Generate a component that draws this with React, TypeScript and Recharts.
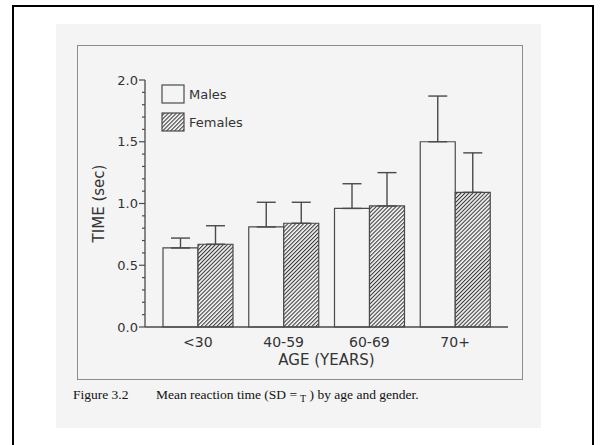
import { BarChart, Bar, XAxis, YAxis, ErrorBar, Legend, Label } from "recharts";

// mean reaction time (sec) and SD by age group
const ageGroups = ["<30", "40-59", "60-69", "70+"];
const maleMeans = [0.64, 0.81, 0.96, 1.5];
const femaleMeans = [0.67, 0.84, 0.98, 1.09];
const maleSd = [0.08, 0.2, 0.2, 0.37];
const femaleSd = [0.15, 0.17, 0.27, 0.32];
const seriesNames = ["Males", "Females"];

const majorTicks = [0, 0.5, 1, 1.5, 2];
const allTicks = [
  0, 0.1, 0.2, 0.3, 0.4, 0.5, 0.6, 0.7, 0.8, 0.9, 1,
  1.1, 1.2, 1.3, 1.4, 1.5, 1.6, 1.7, 1.8, 1.9, 2,
];

const INK = "#4a4a4a";
const TEXT = "#333";
const PAPER = "#f4f4f4";
const FONT = "'DejaVu Sans', sans-serif";

// error bars only go upwards: [below, above]
const data = ageGroups.map((age, i) => ({
  age,
  males: maleMeans[i],
  females: femaleMeans[i],
  maleErr: [0, maleSd[i]],
  femaleErr: [0, femaleSd[i]],
}));

function TimeTick(props: any) {
  const { x, y, payload } = props;
  const major = majorTicks.some((t) => Math.abs(t - payload.value) < 1e-6);
  return (
    <g>
      <line x1={x - (major ? 6 : 3)} x2={x} y1={y} y2={y} stroke={INK} strokeWidth={1.2} />
      {major && (
        <text x={x - 7} y={y} dy="0.36em" textAnchor="end" fontSize={13} fontFamily={FONT} fill={TEXT}>
          {payload.value.toFixed(1)}
        </text>
      )}
    </g>
  );
}

function HatchDef({ id }: { id: string }) {
  return (
    <pattern id={id} width={2.8} height={2.8} patternUnits="userSpaceOnUse" patternTransform="rotate(45)">
      <rect width={2.8} height={2.8} fill={PAPER} />
      <line x1={0.5} y1={0} x2={0.5} y2={2.8} stroke="#383838" strokeWidth={1.1} />
    </pattern>
  );
}

function GenderKey(props: any) {
  const items = [...(props.payload || [])].sort(
    (a: any, b: any) => seriesNames.indexOf(a.value) - seriesNames.indexOf(b.value)
  );
  return (
    <svg width={110} height={50} style={{ display: "block" }}>
      <defs>
        <HatchDef id="keyHatch" />
      </defs>
      {items.map((item: any, i: number) => (
        <g key={item.value} transform={`translate(0, ${i * 28})`}>
          <rect
            x={1}
            y={1}
            width={22}
            height={18}
            fill={String(item.color).startsWith("url") ? "url(#keyHatch)" : item.color}
            stroke={INK}
            strokeWidth={1.2}
          />
          <text x={28} y={10} dy="0.36em" fontSize={13} fontFamily={FONT} fill={TEXT}>
            {item.value}
          </text>
        </g>
      ))}
    </svg>
  );
}

export default function App() {
  return (
    <div style={{ position: "absolute", left: 0, top: 0, width: 602, height: 445, background: "#fff" }}>
      {/* scanned page and figure frame */}
      <div style={{ position: "absolute", left: 56, top: 24, width: 485, height: 404, background: PAPER }} />
      <div
        style={{
          position: "absolute",
          left: 77,
          top: 45,
          width: 444,
          height: 333,
          border: "1.5px solid #8c8c8c",
        }}
      />
      <div
        style={{
          position: "absolute",
          left: 12,
          top: 5,
          width: 578,
          height: 445,
          borderLeft: "2.5px solid #000",
          borderTop: "2.5px solid #000",
          borderRight: "2.5px solid #000",
        }}
      />

      <div style={{ position: "absolute", left: 0, top: 0 }}>
        <BarChart
          width={602}
          height={445}
          data={data}
          margin={{ top: 80, right: 94, bottom: 78, left: 85 }}
          barGap={0}
          barSize={35}
        >
          <defs>
            <HatchDef id="hatch" />
          </defs>
          <XAxis
            dataKey="age"
            height={40}
            padding={{ left: 10, right: 10 }}
            axisLine={{ stroke: INK, strokeWidth: 1.3 }}
            tickLine={false}
            tickSize={0}
            tickMargin={10}
            tick={{ fontSize: 14, fontFamily: FONT, fill: TEXT }}
          >
            <Label
              value="AGE (YEARS)"
              position="insideBottom"
              offset={2}
              style={{ fontSize: 15, fontFamily: FONT, fill: TEXT }}
            />
          </XAxis>
          <YAxis
            width={60}
            domain={[0, 2]}
            ticks={allTicks}
            interval={0}
            axisLine={{ stroke: INK, strokeWidth: 1.3 }}
            tickLine={false}
            tickSize={0}
            tickMargin={0}
            tick={<TimeTick />}
          >
            <Label
              value="TIME (sec)"
              angle={-90}
              position="insideLeft"
              offset={14}
              style={{ fontSize: 15, fontFamily: FONT, fill: TEXT, textAnchor: "middle" }}
            />
          </YAxis>
          <Legend
            layout="vertical"
            align="center"
            verticalAlign="middle"
            content={<GenderKey />}
            wrapperStyle={{ left: 161, top: 84, width: 110 }}
          />
          <Bar dataKey="males" name="Males" fill={PAPER} stroke={INK} strokeWidth={1.2} isAnimationActive={false}>
            <ErrorBar dataKey="maleErr" width={9.5} stroke={INK} strokeWidth={1.4} isAnimationActive={false} />
          </Bar>
          <Bar dataKey="females" name="Females" fill="url(#hatch)" stroke={INK} strokeWidth={1.2} isAnimationActive={false}>
            <ErrorBar dataKey="femaleErr" width={9.5} stroke={INK} strokeWidth={1.4} isAnimationActive={false} />
          </Bar>
        </BarChart>
      </div>

      <svg width={602} height={445} style={{ position: "absolute", left: 0, top: 0, pointerEvents: "none" }}>
        <text x={73} y={399} fontSize={13.5} fontFamily="'Liberation Serif', serif" fill="#111">
          Figure 3.2
        </text>
        <text x={156} y={399} fontSize={13.5} fontFamily="'Liberation Serif', serif" fill="#111">
          Mean reaction time (SD =
          <tspan dx={3} dy={3} fontSize={10}>T</tspan>
          <tspan dy={-3}> ) by age and gender.</tspan>
        </text>
      </svg>
    </div>
  );
}
